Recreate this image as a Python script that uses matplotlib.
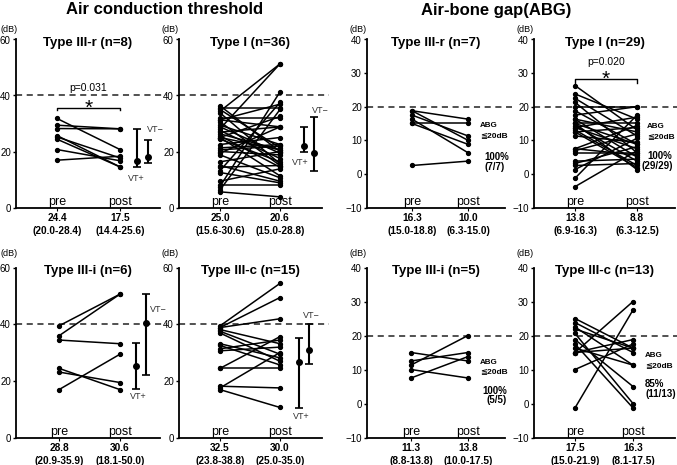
import numpy as np
import matplotlib.pyplot as plt

plt.rcParams['font.family'] = ['Liberation Sans', 'DejaVu Sans']

W, H = 677, 465
fig = plt.figure(figsize=(W / 100, H / 100), dpi=100)

# ---------------- data (pre, post pairs) ----------------
# Air conduction threshold
act_r_pre = [31.8, 29.4, 28.2, 25.7, 25.2, 24.4, 20.7, 16.9]
act_r_post = [20.7, 28.1, 28.1, 14.5, 17.7, 14.5, 16.7, 18.3]

act_1_pre = [36.3, 35.6, 35.0, 34.4, 33.8, 31.9, 31.3, 31.3, 30.6, 29.4, 28.8, 28.1,
             27.5, 26.9, 26.3, 25.6, 25.0, 25.0, 25.0, 24.4, 22.5, 21.3, 20.6, 20.0,
             19.4, 18.8, 16.3, 15.0, 14.4, 13.1, 12.5, 9.4, 8.1, 7.5, 6.3, 5.6]
act_1_post = [20.0, 35.6, 21.3, 51.3, 15.6, 31.9, 28.8, 36.9, 15.0, 22.5, 19.4, 51.3,
              17.5, 28.8, 20.6, 14.4, 32.5, 20.6, 11.3, 16.3, 25.0, 22.5, 21.9, 18.8,
              28.8, 10.6, 20.0, 9.4, 15.0, 37.5, 8.8, 13.8, 8.1, 41.3, 35.0, 3.8]

act_i_pre = [39.4, 35.9, 34.4, 24.4, 23.1, 16.9]
act_i_post = [50.6, 50.6, 33.1, 16.9, 19.4, 29.4]

act_c_pre = [39.4, 38.8, 38.8, 38.1, 37.5, 36.9, 33.1, 32.5, 31.3, 30.6, 24.4, 24.4,
             18.1, 17.5, 16.9]
act_c_post = [54.4, 49.4, 41.9, 33.1, 29.4, 26.9, 28.1, 25.6, 34.4, 31.9, 35.6, 24.4,
              17.5, 30.0, 10.6]

# Air-bone gap
abg_r_pre = [18.8, 18.8, 17.5, 16.3, 15.0, 15.0, 2.5]
abg_r_post = [16.3, 10.0, 11.3, 6.3, 15.0, 8.8, 3.8]

abg_1_pre = [26.3, 23.8, 22.5, 21.3, 20.0, 18.8, 17.5, 16.3, 16.3, 15.0, 15.0, 15.0,
             14.4, 13.8, 13.8, 13.1, 12.5, 12.5, 11.3, 7.5, 7.5, 6.9, 6.3, 3.8, 3.1,
             2.5, 1.3, -1.3, -3.8]
abg_1_post = [13.1, 16.3, 11.3, 6.3, 20.0, 8.8, 20.0, 5.0, 12.5, 1.3, 15.0, 8.8,
              3.8, 16.9, 7.5, 2.5, 13.8, 1.9, 9.4, 14.4, 5.6, 11.9, 6.3, 4.4, 8.1,
              3.1, 10.6, 17.5, 6.9]

abg_i_pre = [15.0, 12.5, 11.3, 10.0, 7.5]
abg_i_post = [12.5, 15.0, 20.0, 7.5, 13.8]

abg_c_pre = [25.0, 23.8, 22.5, 21.9, 20.6, 18.8, 17.5, 16.3, 15.0, 15.0, 15.0, 10.0, -1.3]
abg_c_post = [16.3, 15.0, 11.3, 16.3, 0.0, 5.0, -1.3, 11.3, 30.0, 18.8, 16.3, 17.5, 27.5]

titles = ['Type III-r (n=8)', 'Type I (n=36)', 'Type III-r (n=7)', 'Type I (n=29)',
          'Type III-i (n=6)', 'Type III-c (n=15)', 'Type III-i (n=5)', 'Type III-c (n=13)']
pre_stats = ['24.4', '25.0', '16.3', '13.8', '28.8', '32.5', '11.3', '17.5']
pre_iqr = ['(20.0-28.4)', '(15.6-30.6)', '(15.0-18.8)', '(6.9-16.3)',
           '(20.9-35.9)', '(23.8-38.8)', '(8.8-13.8)', '(15.0-21.9)']
post_stats = ['17.5', '20.6', '10.0', '8.8', '30.6', '30.0', '13.8', '16.3']
post_iqr = ['(14.4-25.6)', '(15.0-28.8)', '(6.3-15.0)', '(6.3-12.5)',
            '(18.1-50.0)', '(25.0-35.0)', '(10.0-17.5)', '(8.1-17.5)']

# VT+ / VT- summaries for ACT panels: (median, low, high)
vt_plus = {0: (16.5, 14.3, 27.9), 1: (22.0, 19.8, 28.8), 4: (25.1, 17.1, 33.3), 5: (26.6, 10.4, 35.2)}
vt_minus = {0: (17.9, 16.0, 24.0), 1: (19.5, 13.1, 32.3), 4: (40.3, 22.1, 50.8), 5: (30.9, 26.0, 39.9)}

# ABG <= 20 dB rates
abg_rate = {2: ('100%', '(7/7)'), 3: ('100%', '(29/29)'), 6: ('100%', '(5/5)'), 7: ('85%', '(11/13)')}

pairs = [(act_r_pre, act_r_post), (act_1_pre, act_1_post), (abg_r_pre, abg_r_post),
         (abg_1_pre, abg_1_post), (act_i_pre, act_i_post), (act_c_pre, act_c_post),
         (abg_i_pre, abg_i_post), (abg_c_pre, abg_c_post)]

# ---------------- layout (pixels) ----------------
cols = [(16, 160), (179, 322), (367, 505), (534, 675)]
rows = [(39.5, 207.5), (267.5, 437.5)]
dby = [10, 14]
# pixel x of "pre" and "post" in each panel
prepost_px = [(57, 120), (220, 280), (412, 468), (575, 637),
              (59, 120), (220, 280), (411, 468), (575, 633)]
vt_x = {0: (1.27, 1.44), 1: (1.40, 1.57), 4: (1.26, 1.43), 5: (1.32, 1.48)}
vt_lab = {0: ((1.43, 28.0), (1.13, 10.2)), 1: ((1.53, 34.6), (1.20, 16.2)),
          4: ((1.49, 45.1), (1.16, 14.4)), 5: ((1.38, 42.9), (1.22, 7.4))}
# x of: ABG label, percent, fraction ; y of the four lines
rate_pos = {2: (1.21, 1.30, 1.30, (14.3, 11.3, 5.0, 2.2)),
            3: (1.16, 1.16, 1.08, (14.0, 11.1, 5.3, 2.4)),
            6: (1.21, 1.26, 1.33, (12.1, 9.4, 3.6, 0.9)),
            7: (1.21, 1.21, 1.21, (14.1, 11.2, 5.6, 2.9))}

for k in range(8):
    r, c = divmod(k, 4)
    l, rr = cols[c]
    t, b = rows[r]
    hpx = b - t
    ax = fig.add_axes([l / W, 1 - b / H, (rr - l) / W, hpx / H])
    p0, p1 = prepost_px[k]
    s = p1 - p0
    ax.set_xlim((l - p0) / s, (rr - p0) / s)
    is_act = c < 2
    if is_act:
        ax.set_ylim(0, 60)
        ax.set_yticks([0, 20, 40, 60])
        ref = 40
    else:
        ax.set_ylim(-10, 40)
        ax.set_yticks([-10, 0, 10, 20, 30, 40])
        ref = 20
    for sp in ['top', 'right']:
        ax.spines[sp].set_visible(False)
    for sp in ['left', 'bottom']:
        ax.spines[sp].set_linewidth(1.3)
    ax.set_xticks([0, 1])
    ax.set_xticklabels([])
    ax.tick_params(axis='x', length=2, width=0.8)
    ax.tick_params(axis='y', length=2.5, width=1, labelsize=7, pad=1.2)

    ax.axhline(ref, xmin=0, xmax=1.05, color='#222222', lw=1.1, ls=(0, (4, 3)), clip_on=False, zorder=1)

    pre, post = pairs[k]
    for a, bb in zip(pre, post):
        ax.plot([0, 1], [a, bb], '-', color='k', lw=1.1, marker='o', ms=2.8, zorder=3)

    xt = ax.get_xaxis_transform()
    ax.text(0.5, 1 - 3.5 / hpx, titles[k], transform=ax.transAxes, ha='center', va='center',
            fontsize=9.5, fontweight='bold')
    ax.text(0, 2.5 / hpx, 'pre', transform=xt, ha='center', va='baseline', fontsize=9)
    ax.text(1, 2.5 / hpx, 'post', transform=xt, ha='center', va='baseline', fontsize=9)
    for xx, m, q in [(0, pre_stats[k], pre_iqr[k]), (1, post_stats[k], post_iqr[k])]:
        ax.text(xx, -10 / hpx, m, transform=xt, ha='center', va='center',
                fontsize=7.3, fontweight='bold')
        ax.text(xx, -23 / hpx, q, transform=xt, ha='center', va='center',
                fontsize=7.3, fontweight='bold')
    fig.text(max(l - 9, 9) / W, 1 - (t - dby[r]) / H, '(dB)', ha='center', va='center', fontsize=6.5)

    if k in vt_plus:
        for xx, (m, lo, hi) in zip(vt_x[k], [vt_plus[k], vt_minus[k]]):
            ax.errorbar(xx, m, yerr=[[m - lo], [hi - m]], fmt='o', color='k', ms=4,
                        capsize=3, lw=1.5, capthick=1.2, clip_on=False)
        (mx, my), (px, py) = vt_lab[k]
        ax.text(mx, my, 'VT\u2212', fontsize=6.5, color='#333333', va='center')
        ax.text(px, py, 'VT+', fontsize=6.5, color='#333333', va='center')

    if k in abg_rate:
        pct, frac = abg_rate[k]
        xa, xp, xf, ys = rate_pos[k]
        ax.text(xa, ys[0], 'ABG', fontsize=5.8, fontweight='bold', va='center')
        ax.text(xa, ys[1], '\u226620dB', fontsize=6, fontweight='bold', va='center')
        ax.text(xp, ys[2], pct, fontsize=7, fontweight='bold', va='center')
        ax.text(xf, ys[3], frac, fontsize=7, fontweight='bold', va='center')

# significance brackets: (panel, bracket y, star centre y, p text y)
axes = fig.axes
for k, yb, ys_, yp, ptxt in [(0, 35.7, 37.4, 42.6, 'p=0.031'), (3, 28.1, 29.9, 33.2, 'p=0.020')]:
    ax = axes[k]
    dy = 0.33 if k == 0 else 0.3
    ax.plot([0, 0, 1, 1], [yb - 3 * dy, yb, yb, yb - 3 * dy], color='k', lw=1.0)
    per_px = (ax.get_ylim()[1] - ax.get_ylim()[0]) / 168
    ax.text(0.5, ys_ - 11.5 * per_px, '*', ha='center', va='baseline', fontsize=15)
    ax.text(0.5, yp, ptxt, ha='center', va='center', fontsize=7.5)

fig.text(165 / W, 1 - 10 / H, 'Air conduction threshold', ha='center', va='center',
         fontsize=12, fontweight='bold')
fig.text(496 / W, 1 - 10 / H, 'Air-bone gap(ABG)', ha='center', va='center',
         fontsize=12, fontweight='bold')

fig.savefig('out.png', dpi=100)
